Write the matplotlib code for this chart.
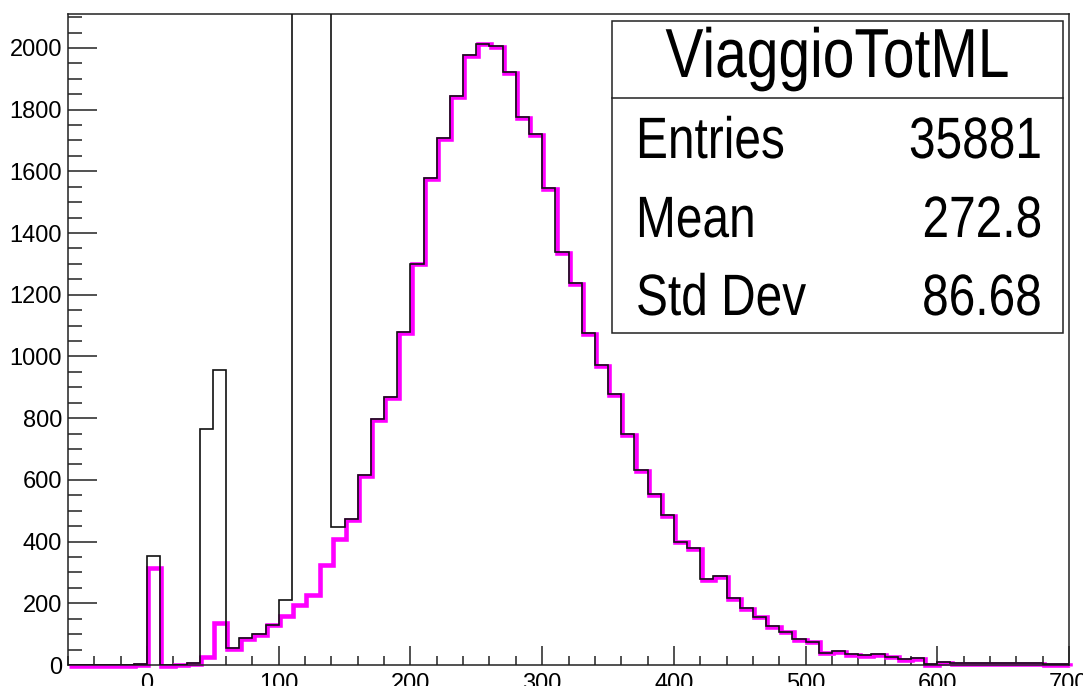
"""ViaggioTotML histogram, ROOT style."""

import numpy as np
import matplotlib
matplotlib.use("Agg")
from matplotlib import pyplot as plt
from matplotlib import transforms
from matplotlib.patches import Rectangle
from matplotlib.lines import Line2D
from matplotlib.patheffects import AbstractPathEffect
from matplotlib.ticker import MultipleLocator

# bin edges: -60 .. 700, width 10
bin_lo = -60
bin_hi = 700
bin_width = 10

# selected entries (magenta)
selected_counts = [
	0, 0, 0, 0, 0, 2,
	318, 0, 1, 6, 27, 140, 54, 88, 101, 131,
	160, 198, 229, 326, 410, 472, 615, 796, 869, 1080,
	1301, 1577, 1708, 1844, 1976, 2014, 2006, 1922, 1776, 1720,
	1547, 1339, 1238, 1077, 972, 878, 748, 632, 553, 486,
	400, 380, 278, 288, 216, 184, 157, 127, 108, 84,
	76, 40, 46, 35, 31, 36, 27, 18, 22, 2,
	9, 7, 6, 6, 5, 5, 5, 5, 4, 2,
]

# all entries (black); 110-140 bins run off the top of the frame
all_counts = [
	0, 0, 0, 0, 0, 2,
	352, 0, 1, 6, 765, 955, 54, 88, 101, 131,
	210, 2900, 3400, 3100, 448, 472, 615, 796, 869, 1080,
	1301, 1577, 1708, 1844, 1976, 2014, 2006, 1922, 1776, 1720,
	1547, 1339, 1238, 1077, 972, 878, 748, 632, 553, 486,
	400, 380, 278, 288, 216, 184, 157, 127, 108, 84,
	76, 40, 46, 35, 31, 36, 27, 18, 22, 2,
	9, 7, 6, 6, 5, 5, 5, 5, 4, 2,
]

hist_name = "ViaggioTotML"
stat_names = ["Entries", "Mean", "Std Dev"]
stat_values = ["35881", "272.8", "86.68"]

y_max = 2110

W, H = 1083, 686


def fx(px):
	return px / W


def fy(py):
	return 1 - py / H


class HSqueeze(AbstractPathEffect):
	"""Narrow the glyphs horizontally around a fixed display x."""

	def __init__(self, sx, x0):
		super().__init__()
		self._sx = sx
		self._x0 = x0

	def draw_path(self, renderer, gc, tpath, affine, rgbFace=None):
		squeeze = transforms.Affine2D().translate(-self._x0, 0).scale(self._sx, 1).translate(self._x0, 0)
		renderer.draw_path(gc, tpath, affine + squeeze, rgbFace)


edges = np.arange(bin_lo, bin_hi + 1, bin_width)

fig = plt.figure(figsize=(W / 100, H / 100), dpi=100)
ax = fig.add_axes([fx(68), fy(665), fx(1069) - fx(68), fy(14) - fy(665)])

pink_tr = transforms.offset_copy(ax.transData, fig=fig, x=1.3, y=-0.8, units="dots")
ax.stairs(selected_counts, edges, baseline=0, color="#ff00ff", linewidth=3.3,
	transform=pink_tr, zorder=2, clip_on=False)
ax.stairs(all_counts, edges, baseline=0, color="#111111", linewidth=1.2, zorder=3)

ax.set_xlim(bin_lo, bin_hi)
ax.set_ylim(0, y_max)

ax.xaxis.set_major_locator(MultipleLocator(100))
ax.xaxis.set_minor_locator(MultipleLocator(20))
ax.yaxis.set_major_locator(MultipleLocator(200))
ax.yaxis.set_minor_locator(MultipleLocator(50))

tick_font = "Liberation Sans"
ax.tick_params(axis="both", which="both", direction="in", width=1.1, color="#222222",
	top=False, right=False)
ax.tick_params(axis="y", which="major", length=21, pad=4.3, labelsize=17)
ax.tick_params(axis="y", which="minor", length=10)
ax.tick_params(axis="x", which="major", length=13.5, pad=5.8, labelsize=17)
ax.tick_params(axis="x", which="minor", length=6.8)
for lab in ax.get_xticklabels() + ax.get_yticklabels():
	lab.set_fontfamily(tick_font)

for sp in ax.spines.values():
	sp.set_linewidth(1.1)
	sp.set_color("#222222")

# stats box
box_l, box_r, box_t, box_b, box_sep = 612, 1063, 21, 333, 98
fig.patches.append(Rectangle((fx(box_l), fy(box_b)), fx(box_r) - fx(box_l), fy(box_t) - fy(box_b),
	transform=fig.transFigure, facecolor="white", edgecolor="#222222", linewidth=1.1, zorder=5))
fig.lines.append(Line2D([fx(box_l), fx(box_r)], [fy(box_sep), fy(box_sep)],
	transform=fig.transFigure, color="#222222", linewidth=1.1, zorder=6))

stat_font = "Liberation Sans"
squeeze = 0.82
title_x = (box_l + box_r) / 2
fig.text(fx(title_x), fy(77), hist_name, ha="center", va="baseline", fontsize=50,
	family=stat_font, zorder=7, path_effects=[HSqueeze(squeeze, title_x)])
name_x, value_x = 636, 1042
row_base = [158, 237, 315]
for name, val, yb in zip(stat_names, stat_values, row_base):
	fig.text(fx(name_x), fy(yb), name, ha="left", va="baseline", fontsize=42,
		family=stat_font, zorder=7, path_effects=[HSqueeze(squeeze, name_x)])
	fig.text(fx(value_x), fy(yb), val, ha="right", va="baseline", fontsize=42,
		family=stat_font, zorder=7, path_effects=[HSqueeze(squeeze, value_x)])

fig.savefig("out.png", dpi=100)
